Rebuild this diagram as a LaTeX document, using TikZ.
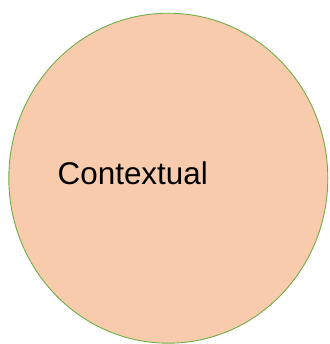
\documentclass[tikz,border=0pt]{standalone}
\usepackage{fontspec}
\setmainfont{Liberation Sans}
\usetikzlibrary{shapes.geometric}
\definecolor{peach}{HTML}{F8CBAD}
\definecolor{edgegreen}{HTML}{70AD47}
\tikzset{
  bubble/.style={ellipse, draw=edgegreen, fill=peach, line width=0.9pt, inner sep=0pt},
  label text/.style={font=\fontsize{31.4}{36}\selectfont, inner sep=0pt, text=black}
}
\begin{document}
\begin{tikzpicture}[x=1pt,y=1pt]
\useasboundingbox (0,0) rectangle (329,-344);
\clip (0,0) rectangle (329,-344);
\node[bubble, minimum width=319pt, minimum height=330pt] (c) at (168.3,-178.2) {};
\node[label text, anchor=base west] (t) at (57.5,-185) {Contextual};
\end{tikzpicture}
\end{document}
